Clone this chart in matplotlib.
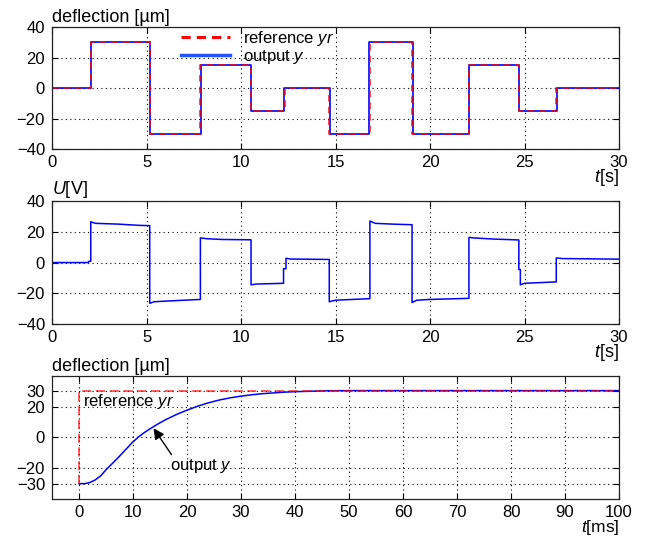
#!/usr/bin/env python3
"""Piezo tracking test: deflection, control voltage and step response."""

import matplotlib
matplotlib.use("Agg")
import matplotlib.pyplot as plt
from matplotlib.lines import Line2D

plt.rcParams['font.family'] = ['Liberation Sans', 'DejaVu Sans']
plt.rcParams['mathtext.fontset'] = 'custom'
plt.rcParams['mathtext.rm'] = 'Liberation Sans'
plt.rcParams['mathtext.it'] = 'Liberation Sans:italic'

# --- top: reference and output deflection [um] over t [s] ---
ref_t = [0, 2.05, 5.17, 7.85, 10.53, 12.33, 14.67, 16.82, 19.05, 22.06, 24.70, 26.68, 30]
ref_y = [0, 30, -30, 15, -15, 0, -30, 30, -30, 15, -15, 0, 0]
out_t = [0, 2.07, 5.20, 7.87, 10.55, 12.30, 14.69, 16.78, 19.08, 22.08, 24.72, 26.70, 30]
out_y = [0, 30, -30.3, 15, -15.3, 0, -30.3, 30, -30.3, 15, -15.3, 0, 0]

# --- middle: control voltage U [V] ---
u_t = [0, 1.9, 1.95, 2.05, 2.05, 2.3, 3.5, 4.6, 5.17,
       5.17, 5.4, 6.5, 7.85,
       7.85, 8.2, 9.0, 10.53,
       10.53, 10.8, 12.25, 12.25, 12.38, 12.38, 12.6, 14.67,
       14.67, 15.0, 16.82,
       16.82, 17.1, 18.0, 19.05,
       19.05, 19.3, 20.0, 22.06,
       22.06, 22.3, 23.5, 24.70,
       24.70, 24.78, 24.78, 25.0, 26.68,
       26.68, 27.0, 30]
u_v = [0, 0, 0.8, 0.8, 26.5, 25.5, 25.0, 24.2, 24.0,
       -26.5, -25.5, -24.8, -24.0,
       16.0, 15.5, 15.0, 14.8,
       -14.5, -14.0, -13.5, -4.0, -4.0, 2.8, 2.3, 2.0,
       -25.5, -24.5, -23.5,
       27.0, 25.5, 25.0, 24.6,
       -26.0, -24.5, -24.0, -23.3,
       16.4, 16.0, 15.2, 14.7,
       -4.5, -4.5, -14.5, -13.5, -12.6,
       3.0, 2.6, 2.2]

# --- bottom: step response over t [ms] ---
step_ref_t = [0, 0, 100]
step_ref_y = [-30, 30, 30]
step_out_t = [0, 1.1, 2, 3, 4, 5, 6, 7, 8, 9, 10, 11, 12, 13, 14, 15, 16,
              18, 20, 22, 24, 26, 28, 30, 32, 34, 36, 38, 40, 43, 46, 50,
              60, 70, 80, 90, 100]
step_out_y = [-30, -30, -29.3, -27.6, -25.0, -21.0, -17.5, -14.0, -10.3, -6.5,
              -2.8, 0.3, 3.0, 5.3, 7.5, 9.6, 11.5,
              14.9, 17.8, 20.4, 22.6, 24.4, 25.8, 26.9, 27.8, 28.5, 29.0,
              29.5, 29.8, 30.1, 30.4, 30.5,
              30.5, 30.5, 30.5, 30.5, 30.5]

FS = 12
BLUE = '#0000ff'
RED = '#ff0000'


def style_axes(ax):
    ax.tick_params(direction='in', top=True, right=True, labelsize=FS,
                   length=4, width=0.8)
    ax.tick_params(axis='x', pad=4)
    ax.tick_params(axis='y', pad=5)
    ax.grid(True, color='black', linestyle=(0, (1, 3)), linewidth=0.8)
    for s in ax.spines.values():
        s.set_linewidth(0.9)
        s.set_color('#222222')


fig = plt.figure(figsize=(6.56, 5.37), dpi=100)
ax1 = fig.add_axes([0.0793, 0.7225, 0.8643, 0.2272])
ax2 = fig.add_axes([0.0793, 0.3966, 0.8643, 0.2290])
ax3 = fig.add_axes([0.0793, 0.0708, 0.8643, 0.2290])

# top
ax1.plot(out_t, out_y, color=BLUE, lw=1.2, drawstyle='steps-post')
ax1.plot(ref_t, ref_y, color=RED, lw=1.2, ls=(0, (4, 3)), alpha=0.85,
         drawstyle='steps-post')
ax1.set_xlim(0, 30)
ax1.set_ylim(-40, 40)
ax1.set_xticks(range(0, 31, 5))
ax1.set_yticks(range(-40, 41, 20))
style_axes(ax1)
handles = [Line2D([], [], color=RED, lw=2.2, ls=(0, (3, 2))),
           Line2D([], [], color='#2255ff', lw=2.5)]
ax1.legend(handles, ['reference $yr$', 'output $y$'],
           loc='upper left', bbox_to_anchor=(0.225, 1.0), fontsize=FS,
           handlelength=2.9, handletextpad=0.8, labelspacing=0.0,
           borderpad=0.1, borderaxespad=0, frameon=False)
ax1.text(0.0, 1.01, 'deflection [µm]', transform=ax1.transAxes,
         ha='left', va='bottom', fontsize=13)
ax1.text(1.0, -0.237, '$t$[s]', transform=ax1.transAxes,
         ha='right', va='center', fontsize=13)

# middle
ax2.plot(u_t, u_v, color=BLUE, lw=1.1)
ax2.set_xlim(0, 30)
ax2.set_ylim(-40, 40)
ax2.set_xticks(range(0, 31, 5))
ax2.set_yticks(range(-40, 41, 20))
style_axes(ax2)
ax2.text(0.0, 1.01, '$U$[V]', transform=ax2.transAxes,
         ha='left', va='bottom', fontsize=13)
ax2.text(1.0, -0.23, '$t$[s]', transform=ax2.transAxes,
         ha='right', va='center', fontsize=13)

# bottom
ax3.plot(step_out_t, step_out_y, color=BLUE, lw=1.1)
ax3.plot(step_ref_t, step_ref_y, color=RED, lw=1.1, ls=(0, (6, 3)), alpha=0.8)
ax3.set_xlim(-5, 100)
ax3.set_ylim(-40, 40)
ax3.set_xticks(range(0, 101, 10))
ax3.set_yticks([-30, -20, 0, 20, 30])
style_axes(ax3)
ax3.text(0.8, 23.5, 'reference $yr$', ha='left', va='center', fontsize=FS)
ax3.annotate('output $y$', xy=(13.8, 6), xytext=(16.9, -18.8),
             ha='left', va='center', fontsize=FS,
             arrowprops=dict(arrowstyle='-|>', color='black', lw=1,
                             mutation_scale=16, shrinkA=0, shrinkB=0,
                             relpos=(0.05, 1.0)))
ax3.text(0.0, 1.01, 'deflection [µm]', transform=ax3.transAxes,
         ha='left', va='bottom', fontsize=13)
ax3.text(1.0, -0.232, '$t$[ms]', transform=ax3.transAxes,
         ha='right', va='center', fontsize=12.5)

fig.savefig('out.png', dpi=100)
